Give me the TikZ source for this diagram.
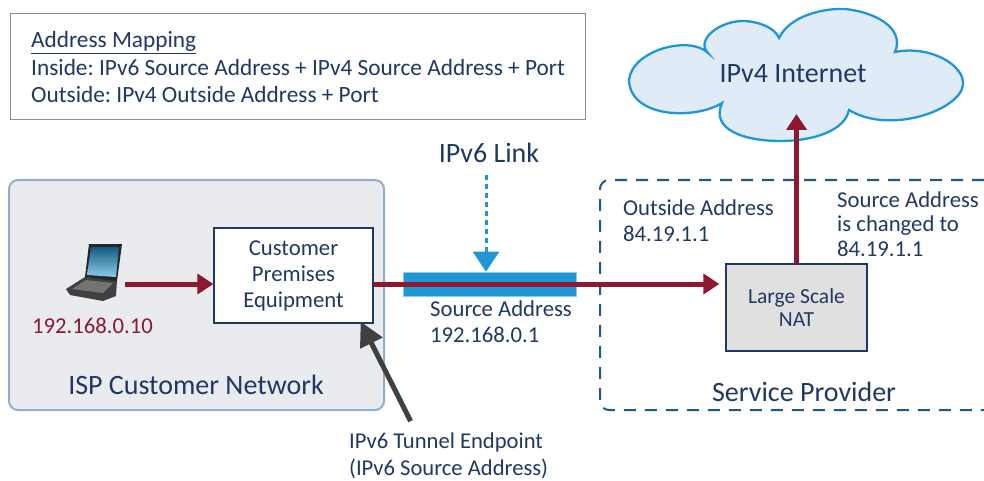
\documentclass[tikz,border=0pt]{standalone}
\usepackage{fontspec}
\setmainfont{Carlito}
\usetikzlibrary{arrows.meta}
\definecolor{navy}{HTML}{1F3864}
\definecolor{wine}{HTML}{8E1830}
\definecolor{linkblue}{HTML}{1F97D4}
\definecolor{ispedge}{HTML}{8FB0C8}
\definecolor{ispfill}{HTML}{E9EBEE}
\definecolor{spedge}{HTML}{1F5A82}
\definecolor{cloudfill}{HTML}{DFECF7}
\begin{document}
\frenchspacing
\begin{tikzpicture}
      [x=1pt, y=-1pt,
       txt/.style={text=navy, font=\fontsize{22.7}{26}\selectfont, inner sep=0pt, align=left},
       title/.style={txt, font=\fontsize{28}{32}\selectfont},
       box/.style={
           rectangle,
           draw=navy, line width=1.3pt,
           txt,
           align=center,
           anchor=center
         },
       flow/.style={draw=wine, line width=5pt, -{Triangle[length=16pt,width=20pt]}},
       ]
    \useasboundingbox (0,0) rectangle (984,481);

    % address mapping
    \node [rectangle, draw=black!45, fill=white, line width=1pt, minimum width=575pt, minimum height=106pt] (mapbox) at (297.5,67) {};
    \node [txt, anchor=west, font=\fontsize{23.3}{27.5}\selectfont] (maptext) at (31,67.5) {%
      \underline{Address Mapping}\\
      Inside: IPv6 Source Address + IPv4 Source Address + Port\\
      Outside: IPv4 Outside Address + Port};

    % customer network
    \node [rectangle, rounded corners=9pt, draw=ispedge, fill=ispfill, line width=2pt,
           minimum width=375pt, minimum height=230pt] (isp) at (196.5,295) {};
    \node [title] (isplabel) at (196,385) {ISP Customer Network};
    \node [box, fill=white, minimum width=159pt, minimum height=95pt, font=\fontsize{22.7}{26}\selectfont] (cpe) at (293.5,275.5) {Customer\\Premises\\Equipment};

    % laptop
    \coordinate (laptop) at (105,284);
    \fill [black!75] (66,289) -- (85,277) -- (117,280) -- (116,296) -- (103,301) -- (70,295) -- cycle;
    \fill [black!55] (72,289) -- (86,280) -- (113,283) -- (103,293) -- cycle;
    \fill [black!85] (89,244) -- (122,244) -- (117,281) -- (85,277) -- cycle;
    \shade [top color=linkblue!60!black, bottom color=linkblue!50!white] (91,247) -- (119,247) -- (116,277) -- (87,275) -- cycle;
    \node [txt, text=wine] (laptopip) at (92.5,326) {192.168.0.10};

    % link
    \node [rectangle, fill=linkblue, draw=linkblue!50!white, line width=.6pt, minimum width=173pt, minimum height=24pt, inner sep=0pt] (link) at (489.5,284) {};
    \node [title] (linklabel) at (489,153) {IPv6 Link};
    \coordinate (linkstart) at (486,175);
    \draw [draw=linkblue, line width=3pt, dash pattern=on 5pt off 4pt, -{Triangle[length=20pt,width=26pt]}] (linkstart) -- (linkstart |- link.north);
    \node [txt, anchor=west] (linktext) at (430,322) {Source Address\\192.168.0.1};

    % service provider
    \draw [spedge, line width=2pt, dash pattern=on 12pt off 9pt, rounded corners=9pt] (984,180) -- (600,180) -- (600,410) -- (984,410);
    \node [title] (splabel) at (804,392) {Service Provider};
    \node [box, draw=navy, fill=black!12, minimum width=141pt, minimum height=87pt, font=\fontsize{21.5}{23}\selectfont] (nat) at (796.5,307.5) {Large Scale\\NAT};
    \node [txt, anchor=west] (outside) at (623,221) {Outside Address\\84.19.1.1};
    \node [txt, anchor=west, font=\fontsize{22.7}{24.5}\selectfont] (changed) at (837,224) {Source Address\\is changed to\\84.19.1.1};

    % cloud
    \draw [draw=linkblue, fill=cloudfill, line width=2.3pt]
      (708,53) .. controls (695,40) and (720,20) .. (745,21)
      .. controls (760,22) and (775,28) .. (779,38)
      .. controls (790,15) and (825,8) .. (845,9)
      .. controls (875,12) and (905,28) .. (895,52)
      .. controls (930,45) and (965,65) .. (963,85)
      .. controls (960,110) and (890,135) .. (849,110)
      .. controls (845,130) and (815,141) .. (780,141)
      .. controls (745,141) and (710,130) .. (722,103)
      .. controls (695,120) and (630,118) .. (629,80)
      .. controls (632,50) and (690,35) .. (708,53) -- cycle;
    \node [title] (internet) at (793,74) {IPv4 Internet};
    \coordinate (cloudin) at (796.5,114);

    % flows
    \draw [flow] (laptop -| 125,0) -- (cpe.west |- laptop);
    \draw [flow, shorten >=6pt] (cpe.east |- laptop) -- (nat.west |- laptop);
    \draw [flow] (nat.north) -- (cloudin);

    % tunnel endpoint
    \node [txt, anchor=west, font=\fontsize{22.6}{27.5}\selectfont] (tunnel) at (349,455.5) {IPv6 Tunnel Endpoint\\(IPv6 Source Address)};
    \draw [black!75, line width=5pt, -{Triangle[length=24pt,width=24pt]}] ([xshift=-38pt,yshift=11pt]tunnel.north) -- ([xshift=-13pt,yshift=2pt]cpe.south east);
  \end{tikzpicture}
\end{document}
